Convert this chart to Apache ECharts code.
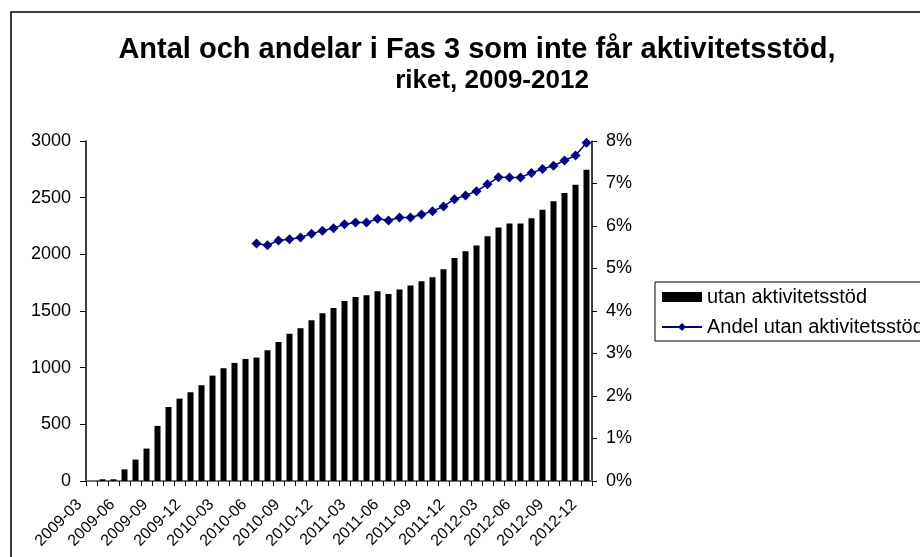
<!DOCTYPE html>
<html><head><meta charset="utf-8">
<script src="https://cdn.jsdelivr.net/npm/echarts@6/dist/echarts.min.js"></script>
<style>html,body{margin:0;padding:0;background:#fff;}#c{width:920px;height:557px;}</style>
</head><body><div id="c"></div>
<script>
const titleLine1 = 'Antal och andelar i Fas 3 som inte får aktivitetsstöd,';
const titleLine2 = 'riket, 2009-2012';
const months = ['2009-03','2009-04','2009-05','2009-06','2009-07','2009-08','2009-09','2009-10','2009-11','2009-12',
'2010-01','2010-02','2010-03','2010-04','2010-05','2010-06','2010-07','2010-08','2010-09','2010-10','2010-11','2010-12',
'2011-01','2011-02','2011-03','2011-04','2011-05','2011-06','2011-07','2011-08','2011-09','2011-10','2011-11','2011-12',
'2012-01','2012-02','2012-03','2012-04','2012-05','2012-06','2012-07','2012-08','2012-09','2012-10','2012-11','2012-12'];
const utanAktivitetsstod = [0,15,15,103,189,286,486,653,727,783,845,930,995,1042,1077,1089,1153,1227,1300,1347,1418,1480,
1527,1589,1624,1639,1674,1650,1689,1724,1762,1797,1868,1968,2027,2077,2159,2236,2271,2271,2318,2394,2468,2541,2615,2747];
const andelUtan = [null,null,null,null,null,null,null,null,null,null,null,null,null,null,null,
5.59,5.55,5.66,5.69,5.73,5.82,5.89,5.95,6.04,6.08,6.08,6.17,6.13,6.20,6.20,6.27,6.35,6.46,6.63,6.72,6.82,6.98,
7.15,7.14,7.14,7.25,7.34,7.42,7.54,7.66,7.96];
const leftTicks = {min:0, max:3000, interval:500};
const rightTicks = {min:0, max:8, interval:1};

const FONT = 'Liberation Sans';
const chart = echarts.init(document.getElementById('c'), null, {renderer:'canvas'});
chart.setOption({
  backgroundColor:'#fff',
  animation:false,
  textStyle:{fontFamily:FONT},
  graphic:[{type:'rect', shape:{x:11,y:12,width:1000,height:700}, style:{fill:null, stroke:'#000', lineWidth:1.5}, z:-1}],
  title:[
    {text:titleLine1, left:472, top:30, textAlign:'center', textStyle:{fontFamily:FONT, fontWeight:'bold', fontSize:29, color:'#000'}},
    {text:titleLine2, left:487, top:63, textAlign:'center', textStyle:{fontFamily:FONT, fontWeight:'bold', fontSize:26, color:'#000'}}
  ],
  legend:{
    orient:'vertical', left:655, top:282, padding:[5,8,4,6], itemGap:10,
    borderColor:'#000', borderWidth:1, backgroundColor:'#fff', borderRadius:0,
    itemWidth:40, itemHeight:10,
    textStyle:{fontFamily:FONT, fontSize:20, color:'#000'},
    data:[{name:'utan aktivitetsstöd', icon:'rect'}, {name:'Andel utan aktivitetsstöd'}]
  },
  grid:{left:86, right:328, top:141, bottom:76, containLabel:false},
  xAxis:[{
    type:'category', data:months, boundaryGap:true, position:'bottom',
    axisLine:{lineStyle:{color:'#000', width:1.5}},
    axisTick:{show:true, interval:0, length:5, lineStyle:{color:'#000'}},
    axisLabel:{interval:2, rotate:45, fontFamily:FONT, fontSize:16, color:'#000', margin:9, padding:[0,17,0,0]},
    splitLine:{show:false}
  },{
    type:'category', data:months, position:'top',
    axisLine:{lineStyle:{color:'#888', width:1.5}},
    axisTick:{show:false}, axisLabel:{show:false}, splitLine:{show:false}
  }],
  yAxis:[{
    type:'value', min:leftTicks.min, max:leftTicks.max, interval:leftTicks.interval, position:'left',
    axisLine:{show:true, lineStyle:{color:'#000', width:1.5}},
    axisTick:{show:true, length:6, lineStyle:{color:'#000'}},
    axisLabel:{fontFamily:FONT, fontSize:18, color:'#000', margin:15, formatter:function(v){return String(v);}},
    splitLine:{show:false}
  },{
    type:'value', min:rightTicks.min, max:rightTicks.max, interval:rightTicks.interval, position:'right',
    axisLine:{show:true, lineStyle:{color:'#000', width:1.5}},
    axisTick:{show:true, length:5, lineStyle:{color:'#000'}},
    axisLabel:{fontFamily:FONT, fontSize:18, color:'#000', margin:14, formatter:'{value}%'},
    splitLine:{show:false}
  }],
  series:[{
    name:'utan aktivitetsstöd', type:'bar', data:utanAktivitetsstod, xAxisIndex:0, yAxisIndex:0,
    barWidth:6, itemStyle:{color:'#000'}
  },{
    name:'Andel utan aktivitetsstöd', type:'line', data:andelUtan, xAxisIndex:0, yAxisIndex:1,
    symbol:'diamond', symbolSize:10, showSymbol:true, showAllSymbol:true, connectNulls:false,
    lineStyle:{color:'#000080', width:1.5}, itemStyle:{color:'#000080'}
  }]
});
</script></body></html>
